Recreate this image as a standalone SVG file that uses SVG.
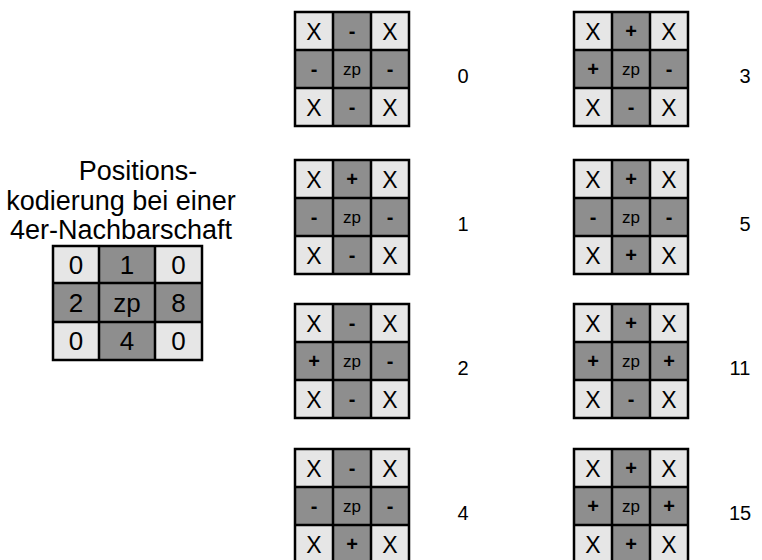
<svg xmlns="http://www.w3.org/2000/svg" width="762" height="560" viewBox="0 0 762 560">
<style>
.l{fill:#e6e6e6}
.d{fill:#8e8e8e}
.b{fill:none;stroke:#000;stroke-width:2.5}
text{font-family:"Liberation Sans",Arial,sans-serif;fill:#000;text-anchor:middle}
.x{font-size:23px}
.s{font-size:20px;font-weight:bold}
.z{font-size:17px}
.n{font-size:20px}
.t{font-size:27px}
.g{font-size:26px}
</style>
<defs>
<g id="grid">
<rect class="l" x="0" y="0" width="38" height="38"/>
<rect class="d" x="38" y="0" width="38" height="38"/>
<rect class="l" x="76" y="0" width="38" height="38"/>
<rect class="d" x="0" y="38" width="114" height="38"/>
<rect class="l" x="0" y="76" width="38" height="38"/>
<rect class="d" x="38" y="76" width="38" height="38"/>
<rect class="l" x="76" y="76" width="38" height="38"/>
<path class="b" d="M0 0H114V114H0Z M38 0V114 M76 0V114 M0 38H114 M0 76H114"/>
<text class="x" x="19" y="27.5">X</text>
<text class="x" x="95" y="27.5">X</text>
<text class="z" x="57" y="63">zp</text>
<text class="x" x="19" y="103.5">X</text>
<text class="x" x="95" y="103.5">X</text>
</g>
</defs>

<g id="legend">
<text class="t" x="138" y="180">Positions-</text>
<text class="t" x="121" y="210">kodierung bei einer</text>
<text class="t" x="121" y="239">4er-Nachbarschaft</text>
<rect class="l" x="53" y="246" width="46" height="37"/>
<rect class="d" x="99" y="246" width="56" height="37"/>
<rect class="l" x="155" y="246" width="47" height="37"/>
<rect class="d" x="53" y="283" width="149" height="39"/>
<rect class="l" x="53" y="322" width="46" height="38"/>
<rect class="d" x="99" y="322" width="56" height="38"/>
<rect class="l" x="155" y="322" width="47" height="38"/>
<path class="b" d="M53 246H202V360H53Z M99 246V360 M155 246V360 M53 283H202 M53 322H202"/>
<text class="g" x="76" y="274">0</text>
<text class="g" x="127" y="274">1</text>
<text class="g" x="178.5" y="274">0</text>
<text class="g" x="76" y="312">2</text>
<text class="g" x="127" y="312">zp</text>
<text class="g" x="178.5" y="312">8</text>
<text class="g" x="76" y="350">0</text>
<text class="g" x="127" y="350">4</text>
<text class="g" x="178.5" y="350">0</text>
</g>

<g id="code0">
<use href="#grid" x="295" y="12"/>
<text class="s" x="352" y="38">-</text>
<text class="s" x="314" y="76">-</text>
<text class="s" x="390" y="76">-</text>
<text class="s" x="352" y="114">-</text>
<text class="n" x="463" y="83">0</text>
</g>

<g id="code1">
<use href="#grid" x="295" y="160"/>
<text class="s" x="352" y="186">+</text>
<text class="s" x="314" y="224">-</text>
<text class="s" x="390" y="224">-</text>
<text class="s" x="352" y="262">-</text>
<text class="n" x="463" y="231">1</text>
</g>

<g id="code2">
<use href="#grid" x="295" y="304"/>
<text class="s" x="352" y="330">-</text>
<text class="s" x="314" y="368">+</text>
<text class="s" x="390" y="368">-</text>
<text class="s" x="352" y="406">-</text>
<text class="n" x="463" y="375">2</text>
</g>

<g id="code4">
<use href="#grid" x="295" y="449"/>
<text class="s" x="352" y="475">-</text>
<text class="s" x="314" y="513">-</text>
<text class="s" x="390" y="513">-</text>
<text class="s" x="352" y="551">+</text>
<text class="n" x="463" y="520">4</text>
</g>

<g id="code3">
<use href="#grid" x="574" y="12"/>
<text class="s" x="631" y="38">+</text>
<text class="s" x="593" y="76">+</text>
<text class="s" x="669" y="76">-</text>
<text class="s" x="631" y="114">-</text>
<text class="n" x="745" y="83">3</text>
</g>

<g id="code5">
<use href="#grid" x="574" y="160"/>
<text class="s" x="631" y="186">+</text>
<text class="s" x="593" y="224">-</text>
<text class="s" x="669" y="224">-</text>
<text class="s" x="631" y="262">+</text>
<text class="n" x="745" y="231">5</text>
</g>

<g id="code11">
<use href="#grid" x="574" y="304"/>
<text class="s" x="631" y="330">+</text>
<text class="s" x="593" y="368">+</text>
<text class="s" x="669" y="368">+</text>
<text class="s" x="631" y="406">-</text>
<text class="n" x="740" y="375">11</text>
</g>

<g id="code15">
<use href="#grid" x="574" y="449"/>
<text class="s" x="631" y="475">+</text>
<text class="s" x="593" y="513">+</text>
<text class="s" x="669" y="513">+</text>
<text class="s" x="631" y="551">+</text>
<text class="n" x="740" y="520">15</text>
</g>
</svg>
